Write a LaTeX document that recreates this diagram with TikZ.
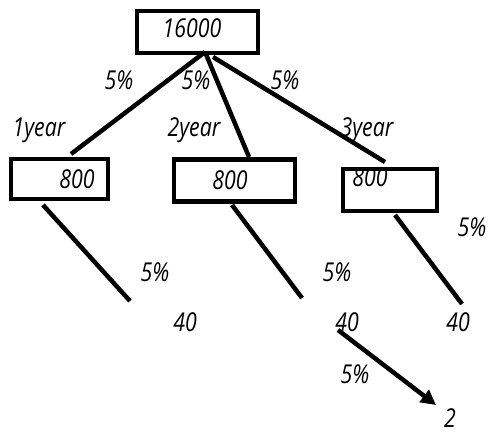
\documentclass[tikz,border=0pt]{standalone}
\usepackage{fontspec}
\setmainfont{Open Sans}[ItalicFeatures={FakeStretch=0.82}]
\usetikzlibrary{arrows.meta}
\begin{document}
\begin{tikzpicture}[x=1pt,y=-1pt,
  hand/.style={font=\fontsize{26}{28}\selectfont\itshape, inner sep=0pt},
  boxnode/.style={draw, line width=4.2pt, inner sep=0pt},
  conn/.style={line width=4.5pt},
  arr/.style={line width=4.5pt, -{Triangle[length=15pt,width=15pt]}}]
\useasboundingbox (0,0) rectangle (494,435);
% boxes
\node[boxnode, minimum width=121pt, minimum height=42pt] (top) at (197.5,32) {};
\node[hand] (t16000) at (192,28) {16000};
\node[boxnode, minimum width=97pt, minimum height=40pt] (b1) at (59.5,179) {};
\node[hand] (t1) at (77,179) {800};
\node[boxnode, minimum width=121pt, minimum height=42pt] (b2) at (234.5,180.5) {};
\node[hand] (t2) at (230,180) {800};
\node[boxnode, minimum width=94pt, minimum height=42pt] (b3) at (390,190) {};
\node[hand] (t3) at (370,177) {800};
% coordinates
\coordinate (s0) at (205,52);
\coordinate (s3) at (213,57);
\coordinate (e1) at (71,154);
\coordinate (e2) at (249,157);
\coordinate (e3) at (385,162);
\coordinate (l1a) at (43,205);
\coordinate (l1b) at (130,301);
\coordinate (l2a) at (232,205);
\coordinate (l2b) at (302,298);
\coordinate (l3a) at (395,215);
\coordinate (l3b) at (462,304);
\coordinate (aa) at (338,330);
\coordinate (ab) at (436,405);
% connectors
\draw[conn] (s0) -- (e1);
\draw[conn] (s0) -- (e2);
\draw[conn] (s3) -- (e3);
\draw[conn] (l1a) -- (l1b);
\draw[conn] (l2a) -- (l2b);
\draw[conn] (l3a) -- (l3b);
\draw[arr] (aa) -- (ab);
% labels
\node[hand] (p1) at (119,80) {5\%};
\node[hand] (p2) at (196,80) {5\%};
\node[hand] (p3) at (285,80) {5\%};
\node[hand] (y1) at (39,130) {1year};
\node[hand] (y2) at (194,130) {2year};
\node[hand] (y3) at (367,130) {3year};
\node[hand] (p4) at (155,272) {5\%};
\node[hand] (p5) at (337,272) {5\%};
\node[hand] (p6) at (472,227) {5\%};
\node[hand] (f1) at (185,322) {40};
\node[hand] (f2) at (347,322) {40};
\node[hand] (f3) at (458,322) {40};
\node[hand] (p7) at (355,374) {5\%};
\node[hand] (n2) at (450,418) {2};
\end{tikzpicture}
\end{document}
